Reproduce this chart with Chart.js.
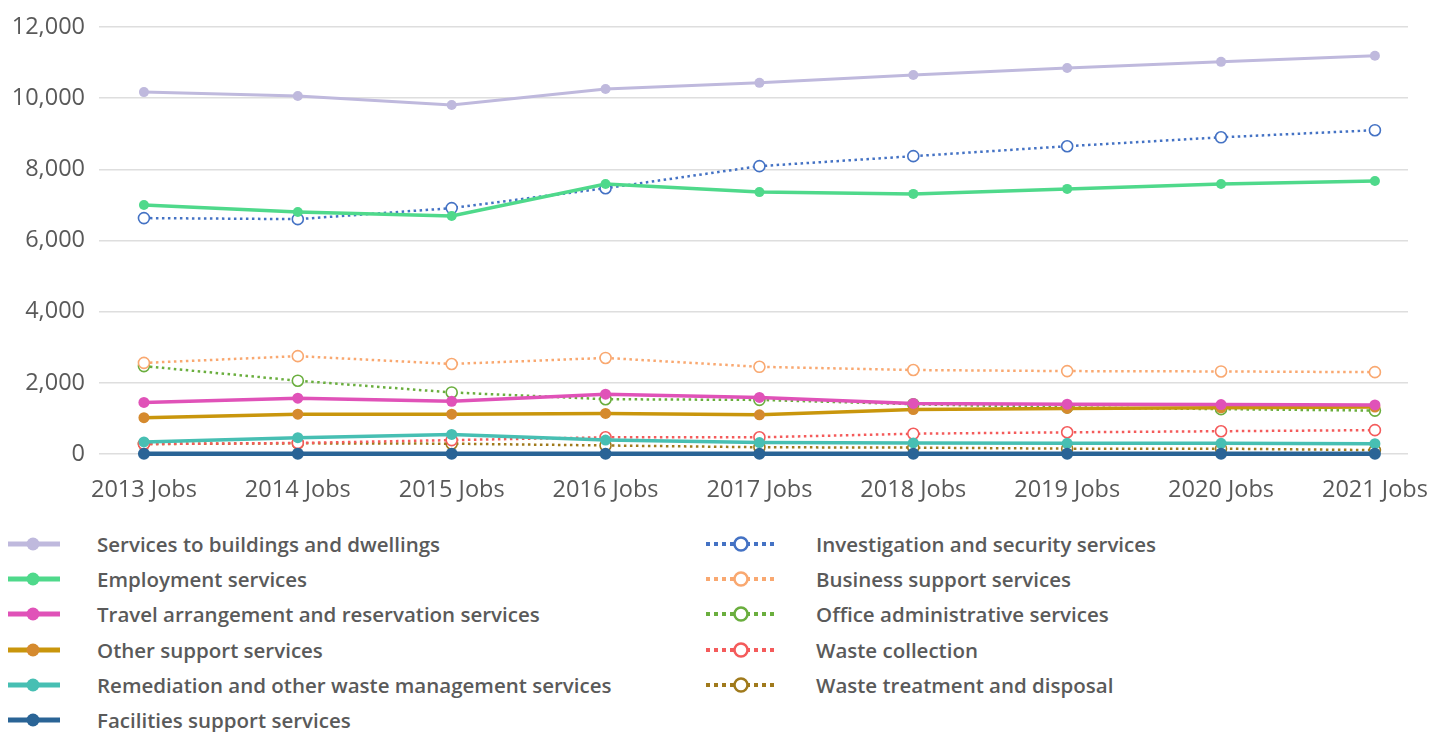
<!DOCTYPE html>
<html>
<head>
<meta charset="utf-8">
<script src="https://cdn.jsdelivr.net/npm/chart.js@4"></script>
<style>
  body { margin: 0; background: #fff; font-family: "Open Sans", sans-serif; }
  #wrap { position: relative; width: 1434px; height: 732px; overflow: hidden; }
  #chart-holder { position: absolute; left: 0; top: 0; width: 1434px; height: 515px; }
  .legend-col { position: absolute; top: 526px; }
  .legend-item { height: 35.3px; display: flex; align-items: center; white-space: nowrap; }
  .legend-item span { font-size: 20.5px; font-weight: 600; color: #5a5a5a; }
  .legend-item svg { flex: none; }
</style>
</head>
<body>
<div id="wrap">
  <div id="chart-holder"><canvas id="jobs-chart"></canvas></div>
  <div class="legend-col" id="legend-left" style="left:8px"></div>
  <div class="legend-col" id="legend-right" style="left:706px"></div>
</div>
<script>
'use strict';

var categories = ['2013 Jobs', '2014 Jobs', '2015 Jobs', '2016 Jobs', '2017 Jobs', '2018 Jobs', '2019 Jobs', '2020 Jobs', '2021 Jobs'];
var yTicks = [0, 2000, 4000, 6000, 8000, 10000, 12000];

var buildingsServices = [10170, 10060, 9810, 10260, 10430, 10650, 10850, 11020, 11190];
var employmentServices = [7000, 6800, 6690, 7590, 7360, 7310, 7450, 7590, 7670];
var travelServices = [1450, 1570, 1480, 1680, 1590, 1420, 1400, 1390, 1380];
var otherSupport = [1020, 1120, 1120, 1140, 1100, 1250, 1280, 1300, 1320];
var remediation = [340, 460, 550, 390, 320, 310, 300, 300, 290];
var facilitiesSupport = [5, 5, 5, 5, 5, 5, 5, 5, 5];
var investigationSecurity = [6630, 6600, 6910, 7470, 8090, 8370, 8650, 8900, 9100];
var businessSupport = [2560, 2750, 2530, 2700, 2450, 2360, 2330, 2320, 2300];
var officeAdmin = [2470, 2060, 1730, 1540, 1520, 1400, 1310, 1260, 1220];
var wasteCollection = [280, 310, 390, 470, 470, 570, 610, 640, 670];
var wasteTreatment = [280, 300, 290, 240, 190, 180, 150, 150, 110];

var solidSeries = [
  { name: 'Services to buildings and dwellings', data: buildingsServices, line: '#bfb9dd', dot: '#bfb9dd', width: 3, radius: 5 },
  { name: 'Employment services', data: employmentServices, line: '#4fd98b', dot: '#4fd98b', width: 3.5, radius: 5 },
  { name: 'Travel arrangement and reservation services', data: travelServices, line: '#e052b8', dot: '#e052b8', width: 3.5, radius: 5.5 },
  { name: 'Other support services', data: otherSupport, line: '#c9960c', dot: '#d58a2e', width: 3.5, radius: 5.5 },
  { name: 'Remediation and other waste management services', data: remediation, line: '#47bfb3', dot: '#47bfb3', width: 3.5, radius: 5.5 },
  { name: 'Facilities support services', data: facilitiesSupport, line: '#2a6496', dot: '#2a6496', width: 4.5, radius: 6 }
];
var dottedSeries = [
  { name: 'Investigation and security services', data: investigationSecurity, line: '#4472c4', dot: '#4472c4' },
  { name: 'Business support services', data: businessSupport, line: '#f9a870', dot: '#f9a870' },
  { name: 'Office administrative services', data: officeAdmin, line: '#6aae3e', dot: '#6aae3e' },
  { name: 'Waste collection', data: wasteCollection, line: '#f45b5b', dot: '#f45b5b' },
  { name: 'Waste treatment and disposal', data: wasteTreatment, line: '#a07a1c', dot: '#a07a1c' }
];

function toPoints(values) {
  return values.map(function(v, i) { return { x: i, y: v }; });
}

var datasets = [];
solidSeries.forEach(function(s) {
  datasets.push({
    label: s.name,
    data: toPoints(s.data),
    borderColor: s.line,
    backgroundColor: s.dot,
    borderWidth: s.width,
    pointRadius: s.radius,
    pointBackgroundColor: s.dot,
    pointBorderColor: s.dot,
    pointBorderWidth: 0,
    clip: false,
    tension: 0
  });
});
dottedSeries.forEach(function(s) {
  datasets.push({
    label: s.name,
    data: toPoints(s.data),
    borderColor: s.line,
    backgroundColor: '#ffffff',
    borderWidth: 2.5,
    borderDash: [2.5, 3.5],
    pointRadius: 5.5,
    pointBackgroundColor: '#ffffff',
    pointBorderColor: s.dot,
    pointBorderWidth: 1.6,
    clip: false,
    tension: 0
  });
});
// facilities on top, like the picture
datasets[5].order = -1;

var canvas = document.getElementById('jobs-chart');
var chart = new Chart(canvas.getContext('2d'), {
  type: 'line',
  data: { datasets: datasets },
  options: {
    responsive: true,
    maintainAspectRatio: false,
    animation: false,
    layout: { padding: { top: 27, right: 26, left: 0, bottom: 0 } },
    plugins: { legend: { display: false }, tooltip: { enabled: false } },
    scales: {
      x: {
        type: 'linear',
        min: -0.292,
        max: 8.215,
        afterBuildTicks: function(axis) {
          axis.ticks = categories.map(function(c, i) { return { value: i }; });
        },
        afterFit: function(axis) {
          axis.height = 61;
          axis.paddingLeft = 0;
          axis.paddingRight = 0;
        },
        ticks: {
          autoSkip: false,
          maxRotation: 0,
          padding: 22,
          color: '#595959',
          font: { family: 'Open Sans', size: 23.5 },
          callback: function(v) { return categories[v]; }
        },
        grid: { display: false, drawTicks: false },
        border: { display: false }
      },
      y: {
        min: 0,
        max: 12000,
        afterBuildTicks: function(axis) {
          axis.ticks = yTicks.map(function(v) { return { value: v }; });
        },
        afterFit: function(axis) {
          axis.width = 99;
          axis.paddingTop = 0;
          axis.paddingBottom = 0;
        },
        ticks: {
          padding: 14,
          color: '#595959',
          font: { family: 'Open Sans', size: 23.5 },
          callback: function(v) { return v.toLocaleString('en-US'); }
        },
        grid: { color: '#dedede', lineWidth: 1.5, drawTicks: false },
        border: { display: false }
      }
    }
  }
});

// legend in two columns, as in the source
function legendSymbol(s, dotted) {
  var w = dotted ? 72 : 52;
  var box = dotted ? 110 : 89;
  var svg = '<svg width="' + box + '" height="20" viewBox="0 0 ' + box + ' 20">';
  if (dotted) {
    svg += '<line x1="0" y1="10" x2="' + w + '" y2="10" stroke="' + s.line + '" stroke-width="4" stroke-dasharray="4 4"/>';
    svg += '<circle cx="35" cy="10" r="6.5" fill="#fff" stroke="' + s.dot + '" stroke-width="2.5"/>';
  } else {
    svg += '<line x1="0" y1="10" x2="' + w + '" y2="10" stroke="' + s.line + '" stroke-width="5"/>';
    svg += '<circle cx="25" cy="10" r="6.5" fill="' + s.dot + '"/>';
  }
  return svg + '</svg>';
}
function buildLegend(el, list, dotted) {
  el.innerHTML = list.map(function(s) {
    return '<div class="legend-item">' + legendSymbol(s, dotted) + '<span>' + s.name + '</span></div>';
  }).join('');
}
buildLegend(document.getElementById('legend-left'), solidSeries, false);
buildLegend(document.getElementById('legend-right'), dottedSeries, true);
</script>
</body>
</html>
